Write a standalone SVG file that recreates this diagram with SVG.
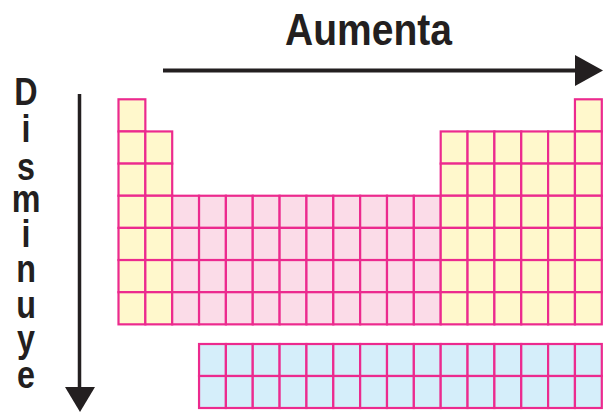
<svg xmlns="http://www.w3.org/2000/svg" xmlns:xlink="http://www.w3.org/1999/xlink" width="603" height="412" viewBox="0 0 603 412">
<style>
.y{fill:#FFF8CC}
.p{fill:#FBDCE8}
.b{fill:#D5EEFA}
.c{stroke:#EC2A8E;stroke-width:2.2}
.lbl{font-family:"Liberation Sans",Arial,sans-serif;font-weight:bold;fill:#231F20}
.ar{stroke:#231F20;fill:none}
.hd{fill:#231F20}
</style>
<defs>
<rect id="cell" width="26.85" height="32.15"/>
<rect id="fcell" width="26.85" height="32"/>
</defs>
<rect width="603" height="412" fill="#fff"/>
<g id="title">
<text class="lbl" x="285" y="45" font-size="44" textLength="167" lengthAdjust="spacingAndGlyphs">Aumenta</text>
</g>
<g id="side-label" transform="translate(26,0) scale(0.85,1)">
<text class="lbl" font-size="38" text-anchor="middle"><tspan x="0" y="105">D</tspan><tspan x="0" y="142">i</tspan><tspan x="0" y="180">s</tspan><tspan x="0" y="212">m</tspan><tspan x="0" y="247">i</tspan><tspan x="0" y="282">n</tspan><tspan x="0" y="318">u</tspan><tspan x="0" y="352">y</tspan><tspan x="0" y="388">e</tspan></text>
</g>
<g id="connectors">
<line class="ar" x1="163" y1="70.5" x2="577" y2="70.5" stroke-width="4"/>
<polygon class="hd" points="575,55 603,70.5 575,86"/>
<line class="ar" x1="79.5" y1="94" x2="79.5" y2="390" stroke-width="3.5"/>
<polygon class="hd" points="65,387 95,387 80,412"/>
</g>
<g id="s-block" class="y c">
<use href="#cell" x="118.5" y="99.3"/>
<use href="#cell" x="118.5" y="131.45"/><use href="#cell" x="145.35" y="131.45"/>
<use href="#cell" x="118.5" y="163.6"/><use href="#cell" x="145.35" y="163.6"/>
<use href="#cell" x="118.5" y="195.75"/><use href="#cell" x="145.35" y="195.75"/>
<use href="#cell" x="118.5" y="227.9"/><use href="#cell" x="145.35" y="227.9"/>
<use href="#cell" x="118.5" y="260.05"/><use href="#cell" x="145.35" y="260.05"/>
<use href="#cell" x="118.5" y="292.2"/><use href="#cell" x="145.35" y="292.2"/>
</g>
<g id="d-block" class="p c">
<use href="#cell" x="172.2" y="195.75"/><use href="#cell" x="199.05" y="195.75"/><use href="#cell" x="225.9" y="195.75"/><use href="#cell" x="252.75" y="195.75"/><use href="#cell" x="279.6" y="195.75"/><use href="#cell" x="306.45" y="195.75"/><use href="#cell" x="333.3" y="195.75"/><use href="#cell" x="360.15" y="195.75"/><use href="#cell" x="387" y="195.75"/><use href="#cell" x="413.85" y="195.75"/>
<use href="#cell" x="172.2" y="227.9"/><use href="#cell" x="199.05" y="227.9"/><use href="#cell" x="225.9" y="227.9"/><use href="#cell" x="252.75" y="227.9"/><use href="#cell" x="279.6" y="227.9"/><use href="#cell" x="306.45" y="227.9"/><use href="#cell" x="333.3" y="227.9"/><use href="#cell" x="360.15" y="227.9"/><use href="#cell" x="387" y="227.9"/><use href="#cell" x="413.85" y="227.9"/>
<use href="#cell" x="172.2" y="260.05"/><use href="#cell" x="199.05" y="260.05"/><use href="#cell" x="225.9" y="260.05"/><use href="#cell" x="252.75" y="260.05"/><use href="#cell" x="279.6" y="260.05"/><use href="#cell" x="306.45" y="260.05"/><use href="#cell" x="333.3" y="260.05"/><use href="#cell" x="360.15" y="260.05"/><use href="#cell" x="387" y="260.05"/><use href="#cell" x="413.85" y="260.05"/>
<use href="#cell" x="172.2" y="292.2"/><use href="#cell" x="199.05" y="292.2"/><use href="#cell" x="225.9" y="292.2"/><use href="#cell" x="252.75" y="292.2"/><use href="#cell" x="279.6" y="292.2"/><use href="#cell" x="306.45" y="292.2"/><use href="#cell" x="333.3" y="292.2"/><use href="#cell" x="360.15" y="292.2"/><use href="#cell" x="387" y="292.2"/><use href="#cell" x="413.85" y="292.2"/>
</g>
<g id="p-block" class="y c">
<use href="#cell" x="574.95" y="99.3"/>
<use href="#cell" x="440.7" y="131.45"/><use href="#cell" x="467.55" y="131.45"/><use href="#cell" x="494.4" y="131.45"/><use href="#cell" x="521.25" y="131.45"/><use href="#cell" x="548.1" y="131.45"/><use href="#cell" x="574.95" y="131.45"/>
<use href="#cell" x="440.7" y="163.6"/><use href="#cell" x="467.55" y="163.6"/><use href="#cell" x="494.4" y="163.6"/><use href="#cell" x="521.25" y="163.6"/><use href="#cell" x="548.1" y="163.6"/><use href="#cell" x="574.95" y="163.6"/>
<use href="#cell" x="440.7" y="195.75"/><use href="#cell" x="467.55" y="195.75"/><use href="#cell" x="494.4" y="195.75"/><use href="#cell" x="521.25" y="195.75"/><use href="#cell" x="548.1" y="195.75"/><use href="#cell" x="574.95" y="195.75"/>
<use href="#cell" x="440.7" y="227.9"/><use href="#cell" x="467.55" y="227.9"/><use href="#cell" x="494.4" y="227.9"/><use href="#cell" x="521.25" y="227.9"/><use href="#cell" x="548.1" y="227.9"/><use href="#cell" x="574.95" y="227.9"/>
<use href="#cell" x="440.7" y="260.05"/><use href="#cell" x="467.55" y="260.05"/><use href="#cell" x="494.4" y="260.05"/><use href="#cell" x="521.25" y="260.05"/><use href="#cell" x="548.1" y="260.05"/><use href="#cell" x="574.95" y="260.05"/>
<use href="#cell" x="440.7" y="292.2"/><use href="#cell" x="467.55" y="292.2"/><use href="#cell" x="494.4" y="292.2"/><use href="#cell" x="521.25" y="292.2"/><use href="#cell" x="548.1" y="292.2"/><use href="#cell" x="574.95" y="292.2"/>
</g>
<g id="f-block" class="b c">
<use href="#fcell" x="199.05" y="344"/><use href="#fcell" x="225.9" y="344"/><use href="#fcell" x="252.75" y="344"/><use href="#fcell" x="279.6" y="344"/><use href="#fcell" x="306.45" y="344"/><use href="#fcell" x="333.3" y="344"/><use href="#fcell" x="360.15" y="344"/><use href="#fcell" x="387" y="344"/><use href="#fcell" x="413.85" y="344"/><use href="#fcell" x="440.7" y="344"/><use href="#fcell" x="467.55" y="344"/><use href="#fcell" x="494.4" y="344"/><use href="#fcell" x="521.25" y="344"/><use href="#fcell" x="548.1" y="344"/><use href="#fcell" x="574.95" y="344"/>
<use href="#fcell" x="199.05" y="376"/><use href="#fcell" x="225.9" y="376"/><use href="#fcell" x="252.75" y="376"/><use href="#fcell" x="279.6" y="376"/><use href="#fcell" x="306.45" y="376"/><use href="#fcell" x="333.3" y="376"/><use href="#fcell" x="360.15" y="376"/><use href="#fcell" x="387" y="376"/><use href="#fcell" x="413.85" y="376"/><use href="#fcell" x="440.7" y="376"/><use href="#fcell" x="467.55" y="376"/><use href="#fcell" x="494.4" y="376"/><use href="#fcell" x="521.25" y="376"/><use href="#fcell" x="548.1" y="376"/><use href="#fcell" x="574.95" y="376"/>
</g>
</svg>
